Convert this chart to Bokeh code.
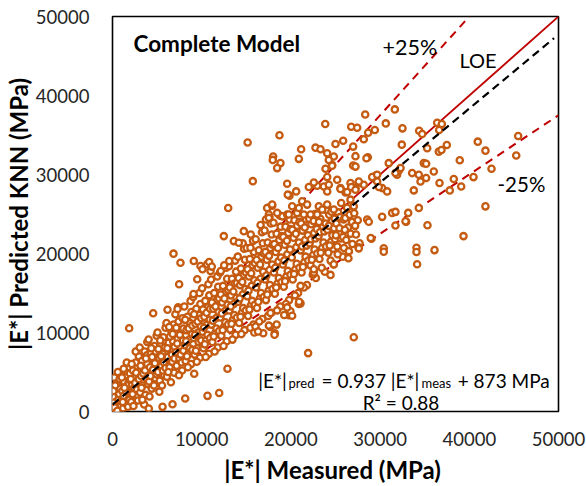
from bokeh.plotting import figure
from bokeh.models import Range1d, FixedTicker, Label
from bokeh.embed import file_html
from bokeh.resources import INLINE

FONT = "Lato"

# |E*| measured vs |E*| predicted (MPa)
band_low = [
    (100, 300), (200, 800), (300, 1500), (400, 200), (500, 2400), (600, 900), (700, 3100), (800, 1800), (900, 600),
    (150, 1200), (350, 2700), (650, 1600), (850, 2900), (250, 500), (950, 1300), (450, 3500), (550, 100), (750, 2200),
    (50, 1900), (300, 3300), (200, 4300), (600, 5000), (800, 4100), (100, 2600),
    (1100, 2600), (1200, 400), (1300, 3800), (1400, 1700), (1500, 4600), (1600, 900), (1700, 2900), (1800, 3600),
    (1900, 1500), (1050, 4300), (1250, 2000), (1450, 5100), (1650, 3300), (1850, 2300), (1950, 4800), (1150, 1200),
    (1550, 2500), (1750, 600), (1350, 3000), (1900, 5600), (1250, 5400), (1600, 6200),
    (2100, 1200), (2200, 3400), (2300, 5200), (2400, 2600), (2500, 4300), (2600, 6200), (2700, 1900), (2800, 3700),
    (2900, 5000), (2050, 4100), (2350, 700), (2450, 3000), (2650, 4900), (2750, 2800), (2950, 7000), (2150, 6000),
    (2550, 3600), (2850, 1400), (2250, 2200), (2950, 4100), (2600, 7600),
    (3100, 2400), (3200, 4500), (3300, 6400), (3400, 3300), (3500, 5500), (3600, 7600), (3700, 2100), (3800, 4200),
    (3900, 6000), (3050, 8100), (3250, 3000), (3450, 4800), (3650, 5200), (3850, 7100), (3950, 3500), (3150, 5800),
    (3550, 900), (3750, 6700), (3350, 1500), (3900, 8800),
    (4100, 3800), (4200, 5600), (4300, 7300), (4400, 2900), (4500, 4900), (4600, 6500), (4700, 8300), (4800, 4200),
    (4900, 5900), (4050, 9100), (4250, 4500), (4450, 6900), (4650, 3300), (4850, 7600), (4950, 9600), (4150, 1900),
    (4550, 5300), (4750, 6100), (4350, 8000), (4950, 4700),
    (5100, 5000), (5200, 6800), (5300, 3900), (5400, 8500), (5500, 5800), (5600, 7300), (5700, 9400), (5800, 4600),
    (5900, 6500), (5050, 10000), (5250, 2500), (5450, 7000), (5650, 5200), (5850, 8100), (5950, 10600), (5150, 7900),
    (5550, 3300), (5750, 6200), (5350, 9000), (5950, 5500),
    (6100, 4400), (6200, 6900), (6300, 8700), (6400, 5600), (6500, 7800), (6600, 10200), (6700, 6300), (6800, 8900),
    (6900, 4900), (6050, 11200), (6250, 5000), (6450, 9500), (6650, 7200), (6850, 11000), (6950, 6700), (6150, 8000),
    (6550, 3700), (6750, 9800), (6350, 10700), (6950, 8200),
    (7100, 7500), (7200, 5800), (7300, 9200), (7400, 11400), (7500, 6700), (7600, 8300), (7700, 10100), (7800, 5200),
    (7900, 9000), (7050, 12300), (7250, 8600), (7450, 4600), (7650, 7200), (7850, 11800), (7950, 7700), (7150, 10600),
    (7550, 9700), (7750, 6200), (7350, 13200), (7950, 10500),
    (8100, 8400), (8200, 6400), (8300, 10300), (8400, 12000), (8500, 7300), (8600, 9100), (8700, 11200), (8800, 6000),
    (8900, 9800), (8050, 13300), (8250, 8900), (8450, 5600), (8650, 8000), (8850, 12600), (8950, 7800), (8150, 11600),
    (8550, 10500), (8750, 14000), (8350, 7000), (8950, 10900),
    (9100, 9300), (9200, 7200), (9300, 11100), (9400, 13000), (9500, 8000), (9600, 10000), (9700, 12200), (9800, 6800),
    (9900, 10800), (9050, 14500), (9250, 9700), (9450, 6300), (9650, 8800), (9850, 13600), (9950, 9000), (9150, 12300),
    (9550, 11400), (9750, 15000), (9350, 7700), (9950, 11800),
]

band_mid = [
    (10100, 10100), (10200, 8000), (10300, 12000), (10400, 14000), (10500, 9000), (10600, 11000), (10700, 13200),
    (10800, 7300), (10900, 11600), (10050, 15600), (10250, 10600), (10450, 6900), (10650, 9700), (10850, 14700),
    (10950, 9300), (10150, 12900), (10550, 12500), (10750, 16100), (10350, 8500), (10950, 13000),
    (11100, 11000), (11200, 8800), (11300, 13000), (11400, 15000), (11500, 9900), (11600, 11800), (11700, 14100),
    (11800, 8100), (11900, 12600), (11050, 16700), (11250, 11500), (11450, 7600), (11650, 10500), (11850, 15800),
    (11950, 10200), (11150, 13800), (11550, 13300), (11750, 17100), (11350, 9500), (11950, 14300),
    (12100, 11900), (12200, 9600), (12300, 13800), (12400, 15900), (12500, 10700), (12600, 12700), (12700, 15200),
    (12800, 8900), (12900, 13500), (12050, 17600), (12250, 12400), (12450, 8300), (12650, 11300), (12850, 16800),
    (12950, 11000), (12150, 14800), (12550, 14300), (12750, 18200), (12350, 10300), (12950, 15400),
    (13100, 12800), (13200, 10400), (13300, 14700), (13400, 16800), (13500, 11600), (13600, 13600), (13700, 16200),
    (13800, 9700), (13900, 14400), (13050, 18400), (13250, 13300), (13450, 9100), (13650, 12200), (13850, 17700),
    (13950, 11900), (13150, 15700), (13550, 15200), (13750, 19100), (13350, 11100), (13950, 16300),
    (14100, 13900), (14200, 11200), (14300, 16000), (14400, 18100), (14500, 12500), (14600, 14800), (14700, 17300),
    (14800, 10300), (14900, 15500), (14050, 19600), (14250, 14300), (14450, 9800), (14650, 13100), (14850, 19200),
    (14950, 12800), (14150, 16900), (14550, 16400), (14750, 20600), (14350, 12000), (14950, 17600), (14600, 21300),
    (15100, 14600), (15200, 12100), (15300, 17100), (15400, 19300), (15500, 13400), (15600, 15900), (15700, 18500),
    (15800, 11000), (15900, 16600), (15050, 20700), (15250, 15300), (15450, 10600), (15650, 14000), (15850, 20200),
    (15950, 13500), (15150, 18000), (15550, 17500), (15750, 21600), (15350, 12900), (15950, 18800), (15500, 22400),
    (15900, 10000),
    (16100, 15700), (16200, 13100), (16300, 18200), (16400, 20400), (16500, 14300), (16600, 16800), (16700, 19600),
    (16800, 11700), (16900, 17700), (16050, 21800), (16250, 16300), (16450, 11400), (16650, 15000), (16850, 21300),
    (16950, 14500), (16150, 19200), (16550, 18600), (16750, 22700), (16350, 13900), (16950, 20000), (16600, 23600),
    (16900, 9900),
    (17100, 16700), (17200, 14100), (17300, 19200), (17400, 21400), (17500, 15300), (17600, 17900), (17700, 20700),
    (17800, 12500), (17900, 18600), (17050, 22900), (17250, 17200), (17450, 12100), (17650, 16000), (17850, 22400),
    (17950, 15500), (17150, 20200), (17550, 19700), (17750, 23800), (17350, 14800), (17950, 21100), (17600, 24600),
    (17700, 10700), (17400, 25800), (17200, 24300),
    (18100, 17600), (18200, 14900), (18300, 20200), (18400, 22500), (18500, 16200), (18600, 19000), (18700, 21700),
    (18800, 13300), (18900, 19500), (18050, 23900), (18250, 18200), (18450, 12800), (18650, 16900), (18850, 23400),
    (18950, 16400), (18150, 21200), (18550, 20700), (18750, 24800), (18350, 15700), (18950, 22200),
    (18200, 9900), (18400, 11000),
    (19100, 18600), (19200, 15800), (19300, 21100), (19400, 23400), (19500, 17100), (19600, 19900), (19700, 22600),
    (19800, 14100), (19900, 20500), (19050, 24700), (19250, 19100), (19450, 13600), (19650, 17800), (19850, 24300),
    (19950, 17300), (19150, 22100), (19550, 21600), (19350, 16500), (19950, 23100), (19800, 12200),
]

band_high = [
    (20100, 19500), (20200, 16700), (20300, 22000), (20400, 24200), (20500, 18000), (20600, 20800), (20700, 23500),
    (20800, 15000), (20900, 21400), (20450, 14700), (20650, 18700), (20850, 25200),
    (20950, 18200), (20150, 23000), (20550, 22500), (20350, 17400), (20950, 24000),
    (21100, 20400), (21200, 17600), (21300, 22900), (21500, 18900), (21600, 21700), (21700, 24300),
    (21800, 16000), (21900, 22300), (21250, 20900), (21450, 15700), (21650, 19600),
    (21950, 19100), (21150, 23800), (21550, 23300), (21750, 21000), (21350, 18300),
    (22100, 21300), (22200, 18500), (22300, 23700), (22500, 19800), (22600, 22600), (22700, 25000),
    (22800, 16900), (22900, 23100), (22050, 24400), (22250, 21800), (22450, 17300), (22650, 20500),
    (22950, 20000), (22550, 24100), (22750, 21900), (22350, 19200),
    (23100, 22200), (23200, 19300), (23300, 24400), (23500, 20700), (23600, 23400),
    (23800, 17700), (23900, 23800), (23250, 22700), (23450, 18200), (23650, 21400),
    (23950, 20900), (23150, 24000), (23750, 22800), (23350, 20100), (23950, 25500),
    (24100, 23000), (24200, 20100), (24300, 24900), (24500, 21500), (24600, 24100),
    (24800, 18600), (24900, 24400), (24250, 23500), (24450, 19100), (24650, 22300), (24850, 23200),
    (24950, 21800), (24550, 25300), (24750, 20600), (24350, 21000),
    (25100, 23800), (25200, 20900), (25300, 25200), (25400, 22600), (25500, 24600), (25600, 21900),
    (25800, 19600), (25900, 24300), (25050, 22300), (25250, 19900), (25450, 23200), (25850, 22100),
    (25950, 20700),
    (26100, 24500), (26200, 21700), (26300, 25800), (26400, 23300), (26500, 20300), (26600, 24900), (26700, 22500),
    (26900, 21200), (26050, 23000), (26450, 19400), (26850, 24000),
    (27100, 25100), (27300, 22400), (27500, 24200), (27700, 21300), (27200, 23500), (27600, 20800),
]

outliers = [
    (23850, 36400), (31650, 38240), (28330, 37600), (26760, 36050), (27430, 35920), (30640, 36470), (32510, 35840),
    (28660, 35290), (29410, 35630), (25000, 33870), (25860, 34280), (28170, 34460), (26980, 33530), (32430, 33780),
    (34380, 35540), (34720, 35120), (36400, 36550), (36920, 36380), (36620, 35630), (35280, 33320), (36580, 32900),
    (36880, 33110), (37480, 33740), (40950, 34160), (41810, 33020), (45480, 34870), (45260, 32400), (38930, 31810),
    (42490, 30720), (40470, 29670), (38260, 29420), (37810, 27990), (39090, 28490), (36660, 28920), (41810, 25970),
    (34900, 31440), (35160, 31350), (36020, 30380), (33590, 30180), (34340, 29970), (34530, 29120), (35160, 29550),
    (33780, 27990), (31910, 29970), (32100, 30510), (30970, 31440), (32290, 30810), (29520, 29880), (29180, 29630),
    (28620, 32190), (28470, 32060), (27240, 32320), (26980, 31130), (27240, 31000), (24810, 32270), (24620, 31220),
    (30230, 28280), (30790, 27860), (29670, 29120), (26680, 28920), (27610, 28990), (28170, 28710), (27240, 28280),
    (25560, 28280), (26120, 27740), (30230, 24640), (31350, 25140), (31720, 25270), (33150, 25140), (28550, 24300),
    (32920, 24010), (31720, 23540), (35310, 23580), (39350, 22200), (30410, 20650), (30410, 20230), (34080, 20730),
    (34080, 20190), (36100, 20430), (34150, 18630), (28730, 24010), (32850, 24090), (29030, 21870), (27610, 20650),
    (27050, 9400), (24810, 18630), (24440, 17290), (22570, 17710), (22500, 17370), (21080, 13690), (19950, 12680),
    (20140, 12120), (19580, 13180), (17710, 12460), (17530, 10870), (18160, 9730), (21930, 7390), (18720, 34960),
    (22760, 33400), (23320, 33200), (24070, 32690), (21150, 33200), (24250, 31850), (20890, 31980), (18010, 32270),
    (17970, 31850), (18830, 31440), (18460, 30810), (23880, 30720), (24620, 31100), (31720, 30180), (25190, 29330),
    (24070, 29670), (23690, 28490), (24250, 28710), (22950, 28580), (22570, 28990), (22010, 28410), (19580, 28830),
    (20590, 27860), (19840, 27320), (25560, 28160), (26310, 27790), (26760, 28410), (27610, 29120), (27240, 28080),
    (29110, 29670), (29670, 29960), (29860, 28410), (21260, 26600), (20140, 25970), (19580, 24930), (17340, 25770),
    (17900, 26060), (17530, 24930), (23130, 25970), (23510, 25560), (22950, 24930), (21450, 24930), (22200, 24930),
    (20700, 25140), (25640, 26390), (26680, 26820), (27050, 25970), (34340, 25770), (19650, 27450), (24070, 27860),
    (12970, 25770), (17900, 26190), (18460, 25140), (17530, 24510), (19760, 24930), (20890, 25770), (21820, 26190),
    (24070, 26190), (24810, 25560), (12480, 22200), (13600, 21570), (14160, 21360), (14720, 22830), (15470, 20730),
    (9110, 19050), (7620, 18830), (9500, 16750), (9860, 18420), (10610, 18630), (10990, 17790), (22570, 17590),
    (21080, 15900), (20890, 13600), (6840, 19980), (10840, 18920), (11130, 18340), (10090, 18000), (7470, 16110),
    (12140, 17790), (13080, 19050), (12520, 18510), (4560, 12430), (1870, 10540), (6170, 12880), (7290, 12970),
    (9080, 14860), (12890, 5410), (10650, 1980), (11960, 2350), (8150, 1640), (6730, 920), (5610, 590), (9160, 4780),
    (4070, 380), (22570, 18000), (28950, 21970), (15150, 34060), (15730, 29160), (16030, 10750), (16320, 10130),
    (19250, 12220), (20920, 13890),
]

scatter_pairs = band_low + band_mid + band_high + outliers
measured = [m for m, _ in scatter_pairs]
predicted = [q for _, q in scatter_pairs]

axis_ticks = [0, 10000, 20000, 30000, 40000, 50000]
loe_x, loe_y = [0, 50000], [0, 50000]
plus25_x, plus25_y = [0, 40000], [0, 50000]
minus25_x, minus25_y = [0, 50000], [0, 37500]
fit_slope, fit_intercept = 0.937, 873
fit_x = [0, 49500]
fit_y = [fit_slope * v + fit_intercept for v in fit_x]

p = figure(width=586, height=486, x_range=Range1d(0, 50000), y_range=Range1d(0, 50000),
           output_backend="svg", toolbar_location=None,
           min_border_left=112, min_border_right=28, min_border_top=16, min_border_bottom=73)
p.background_fill_color = "white"
p.border_fill_color = "white"
p.grid.visible = False
p.outline_line_color = "black"
p.outline_line_width = 1.6
p.outline_line_alpha = 1.0

for ax in (p.xaxis[0], p.yaxis[0]):
    ax.ticker = FixedTicker(ticks=axis_ticks)
    ax.axis_line_color = None
    ax.major_tick_line_color = None
    ax.minor_tick_line_color = None
    ax.major_label_text_font = FONT
    ax.major_label_text_font_size = "18.5px"
    ax.major_label_text_color = "#262626"
    ax.axis_label_text_font = FONT
    ax.axis_label_text_font_style = "bold"
    ax.axis_label_text_font_size = "24px"
    ax.axis_label_text_color = "black"

p.xaxis.axis_label = "|E*| Measured  (MPa)"
p.yaxis.axis_label = "|E*| Predicted KNN (MPa)"
p.xaxis.major_label_standoff = 14
p.yaxis.major_label_standoff = 17
p.xaxis.axis_label_standoff = 6
p.yaxis.axis_label_standoff = 0

red = "#C00000"
p.line(minus25_x, minus25_y, line_color=red, line_width=2, line_dash="8 6")
p.line(plus25_x, plus25_y, line_color=red, line_width=2, line_dash="8 6")
p.line(loe_x, loe_y, line_color=red, line_width=1.8)

p.scatter(measured, predicted, marker="circle", size=6.3, line_width=2.3,
          line_color="#C55A11", fill_color="white")

p.line(fit_x, fit_y, line_color="black", line_width=2.2, line_dash="8 5")


def lab(x, y, text, size="19px", style="normal", align="left"):
    p.add_layout(Label(x=x, y=y, text=text, text_font=FONT, text_font_size=size,
                       text_font_style=style, text_color="black", text_align=align,
                       text_baseline="alphabetic"))


lab(2354, 46580, "Complete Model", size="22.5px", style="bold")
lab(30270, 46140, "+25%", size="21.5px")
lab(38900, 44440, "LOE", size="20px")
lab(43160, 28830, "-25%", size="20.5px")

# equation pieces, placed where each piece sits in the picture
lab(17940, 3966, "|E*|", align="center")
lab(21190, 3589, "pred", size="13px", align="center")
lab(23430, 3966, "= 0.937 |E*|")
lab(34640, 3589, "meas", size="13px")
lab(38700, 3966, "+ 873 MPa")
lab(32340, 1133, "R² = 0.88", align="center")

open("out.html", "w").write(file_html(p, INLINE))
